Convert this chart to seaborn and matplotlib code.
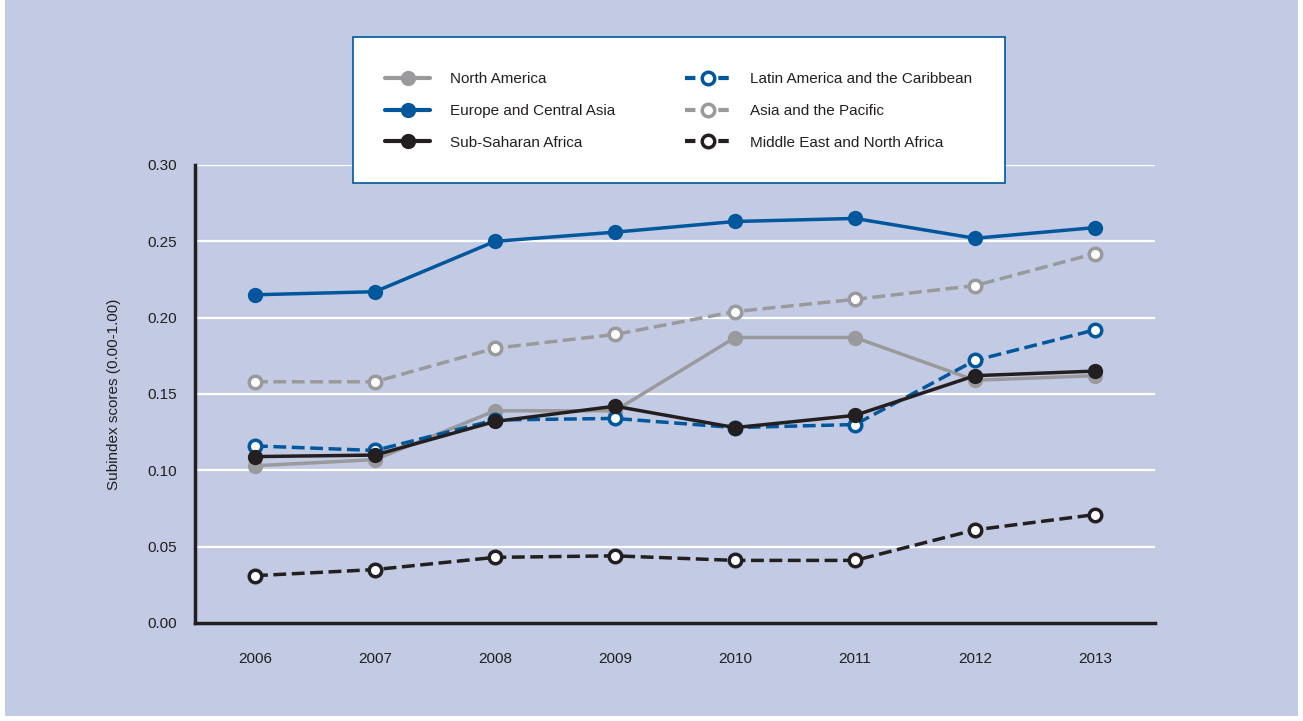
import numpy as np
import pandas as pd
import matplotlib
matplotlib.use("Agg")
import matplotlib.pyplot as plt
from matplotlib.patches import Rectangle
from matplotlib.lines import Line2D
import seaborn as sns

# data
years = [2006, 2007, 2008, 2009, 2010, 2011, 2012, 2013]
north_america = [0.103, 0.107, 0.139, 0.139, 0.187, 0.187, 0.159, 0.162]
europe_central_asia = [0.215, 0.217, 0.250, 0.256, 0.263, 0.265, 0.252, 0.259]
sub_saharan_africa = [0.109, 0.110, 0.132, 0.142, 0.128, 0.136, 0.162, 0.165]
latin_america = [0.116, 0.113, 0.133, 0.134, 0.128, 0.130, 0.172, 0.192]
asia_pacific = [0.158, 0.158, 0.180, 0.189, 0.204, 0.212, 0.221, 0.242]
mena = [0.031, 0.035, 0.043, 0.044, 0.041, 0.041, 0.061, 0.071]

regions = ["North America", "Europe and Central Asia", "Sub-Saharan Africa",
           "Latin America and the Caribbean", "Asia and the Pacific",
           "Middle East and North Africa"]
values = [north_america, europe_central_asia, sub_saharan_africa,
          latin_america, asia_pacific, mena]

df = pd.DataFrame([(r, y, v) for r, vals in zip(regions, values) for y, v in zip(years, vals)],
                  columns=["Region", "Year", "Score"])

BLUE = "#00579c"
GREY = "#9a9a9c"
BLACK = "#231f20"
BG = "#c3cae3"

styles = {
    "North America": dict(color=GREY, ls="-", filled=True),
    "Europe and Central Asia": dict(color=BLUE, ls="-", filled=True),
    "Sub-Saharan Africa": dict(color=BLACK, ls="-", filled=True),
    "Latin America and the Caribbean": dict(color=BLUE, ls="--", filled=False),
    "Asia and the Pacific": dict(color=GREY, ls="--", filled=False),
    "Middle East and North Africa": dict(color=BLACK, ls="--", filled=False),
}
draw_order = ["North America", "Asia and the Pacific", "Europe and Central Asia",
              "Middle East and North Africa", "Latin America and the Caribbean",
              "Sub-Saharan Africa"]

sns.set_style("white")
plt.rcParams["font.family"] = ["Liberation Sans Narrow", "Liberation Sans", "DejaVu Sans"]
FS = 11

W, H = 1303, 721
fig = plt.figure(figsize=(W / 100, H / 100), dpi=100)
fig.patch.set_facecolor("white")
fig.patches.append(Rectangle((5 / W, 5 / H), 1293 / W, 1 - 5 / H, transform=fig.transFigure,
                             facecolor=BG, edgecolor="none", zorder=-10))

ax = fig.add_axes([195 / W, (H - 623) / H, 960 / W, 458 / H])
ax.set_facecolor("none")

for z, region in enumerate(draw_order):
    st = styles[region]
    sub = df[df["Region"] == region]
    sns.lineplot(data=sub, x="Year", y="Score", ax=ax, color=st["color"], linestyle=st["ls"],
                 linewidth=2.5, marker="o", markersize=11 if st["filled"] else 9,
                 markerfacecolor=st["color"] if st["filled"] else "white",
                 markeredgecolor=st["color"], markeredgewidth=0 if st["filled"] else 2.5,
                 zorder=3 + z, legend=False)

ax.set_xlim(2005.5, 2013.5)
ax.set_ylim(0, 0.30)
ax.set_yticks(np.arange(0, 0.31, 0.05))
ax.set_yticklabels([f"{v:.2f}" for v in np.arange(0, 0.31, 0.05)])
ax.set_xticks(years)
ax.set_xticklabels([str(y) for y in years])
ax.yaxis.grid(True, color="white", linewidth=1.6)
ax.set_axisbelow(True)
for s in ["top", "right"]:
    ax.spines[s].set_visible(False)
for s in ["left", "bottom"]:
    ax.spines[s].set_color(BLACK)
    ax.spines[s].set_linewidth(2.5)
ax.tick_params(axis="x", direction="in", length=9, width=2, color=BLACK,
               labelsize=FS, labelcolor=BLACK, pad=21)
ax.tick_params(axis="y", length=0, labelsize=FS, labelcolor=BLACK, pad=13)
ax.set_xlabel("")
ax.set_ylabel("Subindex scores (0.00-1.00)", fontsize=FS, color=BLACK, labelpad=19)

# legend box
fig.patches.append(Rectangle((353 / W, (H - 183) / H), 652 / W, 146 / H, transform=fig.transFigure,
                             facecolor="white", edgecolor=BLUE, linewidth=1.2, zorder=5))
handles = []
for region in regions:
    st = styles[region]
    handles.append(Line2D([], [], color=st["color"], linestyle=st["ls"], linewidth=3,
                          marker="o", markersize=11 if st["filled"] else 9,
                          markerfacecolor=st["color"] if st["filled"] else "white",
                          markeredgecolor=st["color"], markeredgewidth=0 if st["filled"] else 2.5,
                          dashes=(2.5, 1.5) if st["ls"] == "--" else (None, None)))
leg = fig.legend(handles, regions, ncol=2, loc="upper left",
                 bbox_to_anchor=(385 / W, (H - 72) / H), frameon=False, fontsize=FS,
                 handlelength=2.95, handletextpad=1.3, labelspacing=1.17, columnspacing=4.6,
                 borderpad=0, borderaxespad=0)
leg.set_zorder(6)
for t in leg.get_texts():
    t.set_color(BLACK)

fig.savefig("out.png", dpi=100, facecolor=fig.get_facecolor())
